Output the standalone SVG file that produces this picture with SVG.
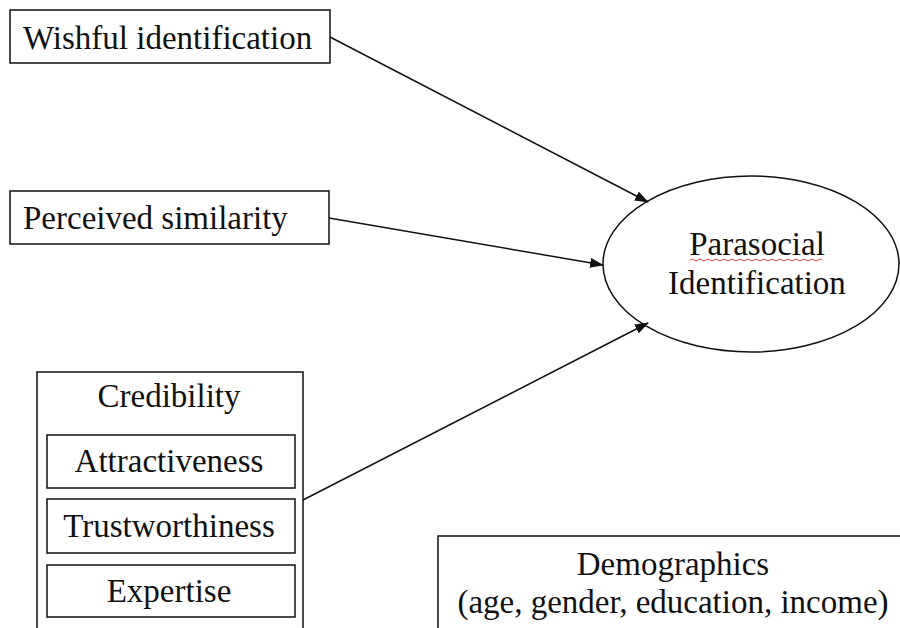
<svg xmlns="http://www.w3.org/2000/svg" width="900" height="628" viewBox="0 0 900 628">
  <style>
    .box { fill: #fff; stroke: #111; stroke-width: 1.5; }
    .lbl { font-family: "Liberation Serif", "Times New Roman", serif; font-size: 33px; fill: #111; }
    .mid { text-anchor: middle; }
    .edge { stroke: #111; stroke-width: 1.5; fill: none; marker-end: url(#arrow); }
  </style>
  <defs>
    <marker id="arrow" markerUnits="userSpaceOnUse" markerWidth="14" markerHeight="10" refX="13" refY="5" orient="auto">
      <path d="M0,0 L14,5 L0,10 Z" fill="#111"/>
    </marker>
  </defs>
  <rect width="900" height="628" fill="#fff"/>

  <g id="wishful">
    <rect class="box" x="10" y="10" width="320" height="53"/>
    <text class="lbl" x="23" y="49">Wishful identification</text>
  </g>

  <g id="similarity">
    <rect class="box" x="10" y="191" width="319" height="53"/>
    <text class="lbl" x="23" y="229">Perceived similarity</text>
  </g>

  <g id="parasocial">
    <ellipse class="box" cx="751" cy="264" rx="148" ry="88"/>
    <text class="lbl mid" x="757" y="255">Parasocial</text>
    <!-- wavy spell-check underline -->
    <path d="M690,260 q2,-2 4,0 t4,0 t4,0 t4,0 t4,0 t4,0 t4,0 t4,0 t4,0 t4,0 t4,0 t4,0 t4,0 t4,0 t4,0 t4,0 t4,0 t4,0 t4,0 t4,0 t4,0 t4,0 t4,0 t4,0 t4,0 t4,0 t4,0 t4,0 t4,0 t4,0 t4,0 t4,0 t4,0" fill="none" stroke="#e0403c" stroke-width="1"/>
    <text class="lbl mid" x="757" y="294">Identification</text>
  </g>

  <g id="credibility">
    <rect class="box" x="37" y="372" width="266" height="270"/>
    <text class="lbl mid" x="169" y="407">Credibility</text>
    <g id="attractiveness">
      <rect class="box" x="47" y="435" width="248" height="53"/>
      <text class="lbl mid" x="169" y="472">Attractiveness</text>
    </g>
    <g id="trustworthiness">
      <rect class="box" x="47" y="499" width="248" height="54"/>
      <text class="lbl mid" x="169" y="537">Trustworthiness</text>
    </g>
    <g id="expertise">
      <rect class="box" x="47" y="565" width="248" height="52"/>
      <text class="lbl mid" x="169" y="602">Expertise</text>
    </g>
  </g>

  <g id="demographics">
    <rect class="box" x="438" y="536" width="480" height="120"/>
    <text class="lbl mid" x="673" y="575">Demographics</text>
    <text class="lbl mid" x="673" y="613">(age, gender, education, income)</text>
  </g>

  <g id="connectors">
    <line class="edge" x1="330" y1="37" x2="648" y2="202"/>
    <line class="edge" x1="329" y1="218" x2="603" y2="265"/>
    <line class="edge" x1="303" y1="500" x2="648" y2="323"/>
  </g>
</svg>
